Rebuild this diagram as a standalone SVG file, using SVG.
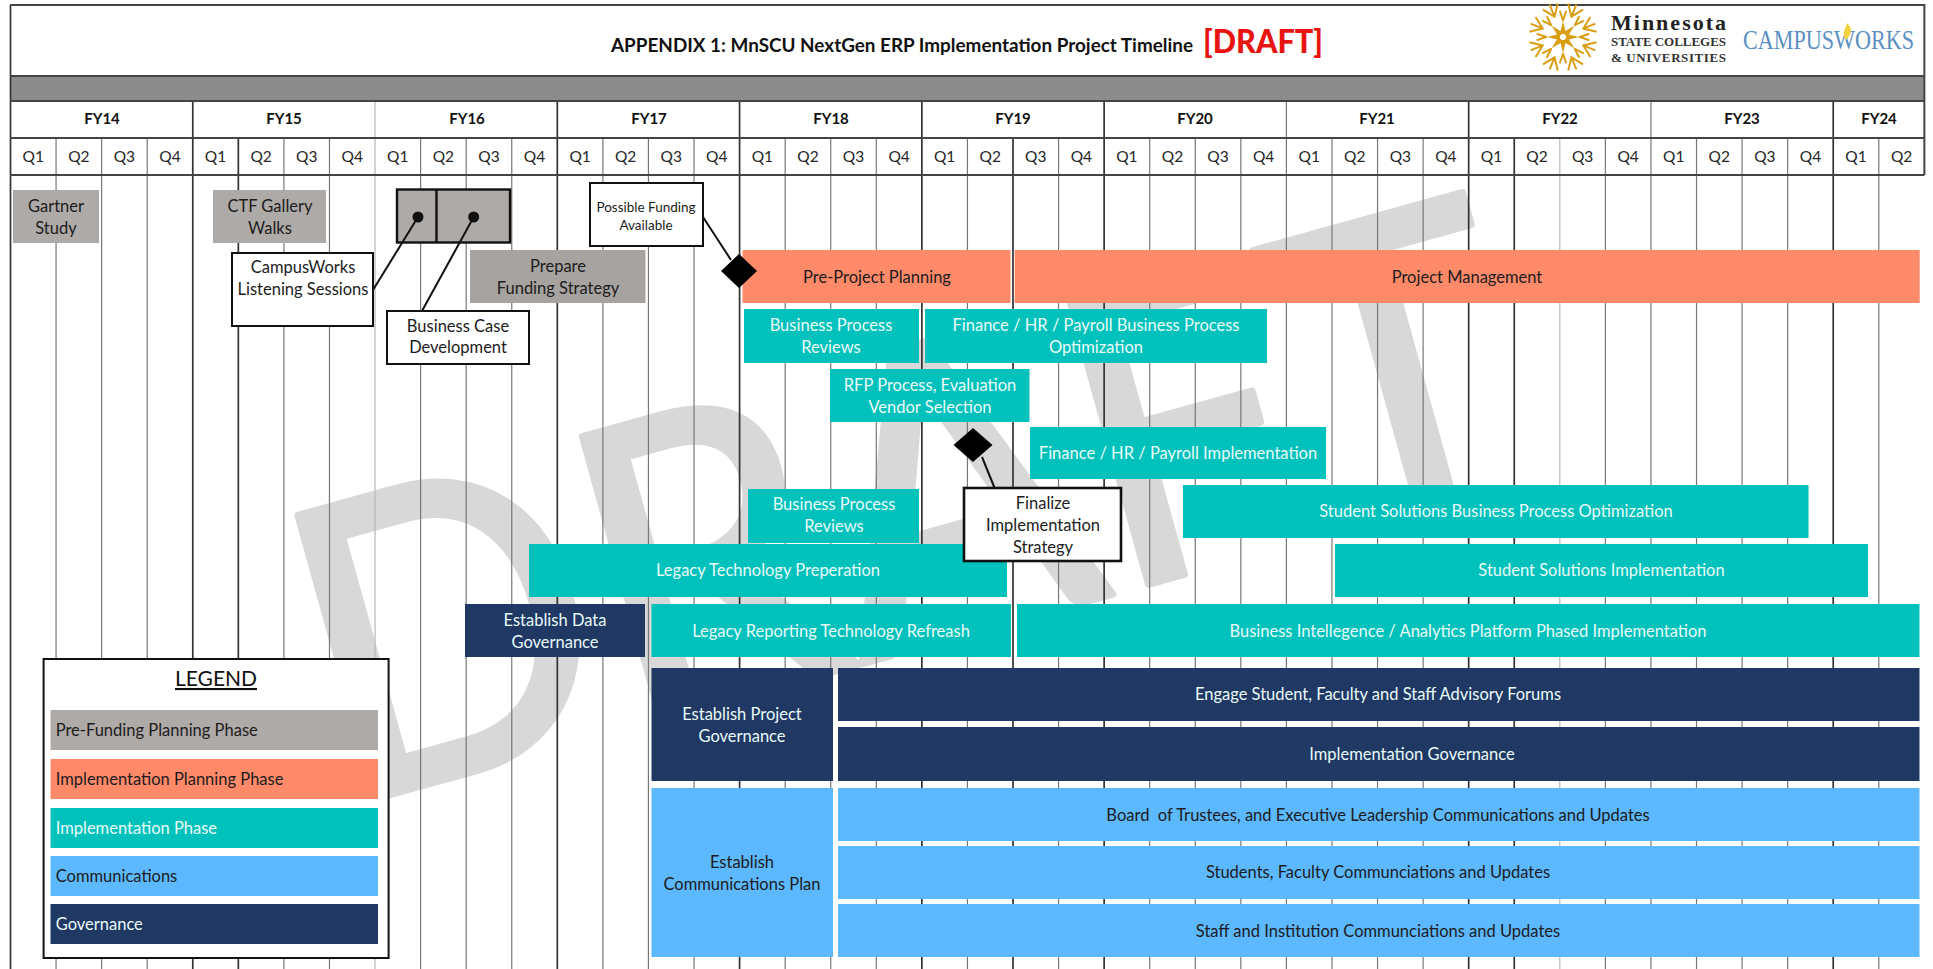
<svg xmlns="http://www.w3.org/2000/svg" width="1933" height="969" viewBox="0 0 1933 969">
<style>
text{font-family:Lato,"Liberation Sans",sans-serif;font-size:16.5px;text-anchor:middle;fill:#1c1c1c}
.w{fill:#e9fbf8}
.q{font-size:15.5px;fill:#262626}
.fy{font-size:15px;font-weight:700;fill:#111}
.l{text-anchor:start}
.gray{fill:#aeaaa8}.gray2{fill:#a6a3a1}.orange{fill:#ff8a6a}.teal{fill:#00c1bb}.navy{fill:#1f3864}.blue{fill:#5cb8ff}
.box{fill:#fff;stroke:#111;stroke-width:2}
.gd{stroke:#333;stroke-width:1.7;fill:none}
.gm{stroke:#777;stroke-width:1.2;fill:none}
.gl{stroke:#b8b8b8;stroke-width:1.2;fill:none}
.hl{stroke:#444;stroke-width:2;fill:none}
.cn{stroke:#111;stroke-width:2;fill:none}
.gold{stroke:#d99e12;stroke-width:2;fill:none}
</style>
<defs>
<path id="spoke" d="M0,-16L3.200,-3L-3.200,-3Z" fill="#d99e12"/>
<path id="chev" d="M-8,-33L0,-22L8,-33M0,-22V-35M-13,-23L-6,-15M13,-23L6,-15" class="gold"/>
</defs>
<rect width="1933" height="969" fill="#fff"/>
<text id="watermark" transform="translate(342,808) rotate(-15.500)" x="0" y="0" textLength="1250" lengthAdjust="spacingAndGlyphs" style="font-size:410px;font-weight:400;text-anchor:start;fill:#d9d8d8;stroke:#d9d8d8;stroke-width:7px;stroke-linejoin:round">DRAFT</text>
<g id="grid" transform="translate(10.500,0) scale(.9993,1) translate(-10.500,0)">
<rect x="10.500" y="76" width="1915" height="25" fill="#8c8c8c"/>
<path class="gd" d="M10.500 5V969M192.900 101V969M238.500 138V969M557.700 101V969M740.100 101V969M922.500 101V969M1013.700 138V969M1104.900 101V969M1469.700 101V969M1515.300 138V969M1834.500 101V969"/>
<path class="gm" d="M56.100 138V969M101.700 138V969M147.300 138V969M284.100 138V969M329.700 138V969M420.900 138V969M466.500 138V969M512.100 138V969M603.300 138V969M648.900 138V969M694.500 138V969M785.700 138V969M831.300 138V969M876.900 138V969M968.100 138V969M1059.300 138V969M1150.500 138V969M1196.100 138V969M1241.700 138V969M1287.300 101V969M1332.900 138V969M1378.500 138V969M1424.100 138V969M1606.500 138V969M1652.100 101V969M1697.700 138V969M1743.300 138V969M1788.900 138V969M1880.100 138V969"/>
<path class="gl" d="M375.300 101V969M1560.900 138V969"/>
<path class="hl" d="M10 5H1925.700V175M10 76H1925.700M10 101H1925.700M10 138H1925.700M10 175H1925.700"/>
</g>
<g id="title">
<text x="902" y="52" style="font-size:18.500px;font-weight:700;fill:#111" textLength="582" lengthAdjust="spacingAndGlyphs">APPENDIX 1: MnSCU NextGen ERP Implementation Project Timeline</text>
<text x="1263" y="53" style="font-size:32px;font-weight:900;fill:#e8140f" textLength="120" lengthAdjust="spacingAndGlyphs">[DRAFT]</text>
</g>
<g id="logo-minnesota">
<g transform="translate(1563,37)">
<use href="#spoke"/><use href="#spoke" transform="rotate(45)"/><use href="#spoke" transform="rotate(90)"/><use href="#spoke" transform="rotate(135)"/><use href="#spoke" transform="rotate(180)"/><use href="#spoke" transform="rotate(225)"/><use href="#spoke" transform="rotate(270)"/><use href="#spoke" transform="rotate(315)"/>
<use href="#chev" transform="rotate(22.500)"/><use href="#chev" transform="rotate(67.500)"/><use href="#chev" transform="rotate(112.500)"/><use href="#chev" transform="rotate(157.500)"/><use href="#chev" transform="rotate(202.500)"/><use href="#chev" transform="rotate(247.500)"/><use href="#chev" transform="rotate(292.500)"/><use href="#chev" transform="rotate(337.500)"/>
</g>
<text x="1611" y="30" style="font-family:'Liberation Serif',serif;font-size:22px;font-weight:700;text-anchor:start;fill:#222" textLength="115" lengthAdjust="spacing">Minnesota</text>
<text x="1611" y="46" style="font-family:'Liberation Serif',serif;font-size:13px;font-weight:700;text-anchor:start;fill:#333" textLength="115" lengthAdjust="spacing">STATE COLLEGES</text>
<text x="1611" y="62" style="font-family:'Liberation Serif',serif;font-size:13px;font-weight:700;text-anchor:start;fill:#333" textLength="115" lengthAdjust="spacing">&amp; UNIVERSITIES</text>
</g>
<g id="logo-campusworks">
<text x="1743" y="49" style="font-family:'Liberation Serif',serif;font-size:27px;text-anchor:start;fill:#5b8fc2" textLength="171" lengthAdjust="spacingAndGlyphs">CAMPUSWORKS</text>
<path d="M1846 40C1841 33 1846 28 1847 23C1852 28 1853 33 1846 40Z" fill="#f2d13c"/>
</g>
<g id="fiscal-years">
<text class="fy" x="102" y="124">FY14</text><text class="fy" x="284" y="124">FY15</text><text class="fy" x="467" y="124">FY16</text><text class="fy" x="649" y="124">FY17</text><text class="fy" x="831" y="124">FY18</text><text class="fy" x="1013" y="124">FY19</text><text class="fy" x="1195" y="124">FY20</text><text class="fy" x="1377" y="124">FY21</text><text class="fy" x="1560" y="124">FY22</text><text class="fy" x="1742" y="124">FY23</text><text class="fy" x="1879" y="124">FY24</text>
</g>
<g id="quarters" transform="translate(10.500,0) scale(.9993,1) translate(-10.500,0)">
<text class="q" x="33.300" y="162">Q1</text><text class="q" x="78.900" y="162">Q2</text><text class="q" x="124.500" y="162">Q3</text><text class="q" x="170.100" y="162">Q4</text>
<text class="q" x="215.700" y="162">Q1</text><text class="q" x="261.300" y="162">Q2</text><text class="q" x="306.900" y="162">Q3</text><text class="q" x="352.500" y="162">Q4</text>
<text class="q" x="398.100" y="162">Q1</text><text class="q" x="443.700" y="162">Q2</text><text class="q" x="489.300" y="162">Q3</text><text class="q" x="534.900" y="162">Q4</text>
<text class="q" x="580.500" y="162">Q1</text><text class="q" x="626.100" y="162">Q2</text><text class="q" x="671.700" y="162">Q3</text><text class="q" x="717.300" y="162">Q4</text>
<text class="q" x="762.900" y="162">Q1</text><text class="q" x="808.500" y="162">Q2</text><text class="q" x="854.100" y="162">Q3</text><text class="q" x="899.700" y="162">Q4</text>
<text class="q" x="945.300" y="162">Q1</text><text class="q" x="990.900" y="162">Q2</text><text class="q" x="1036.500" y="162">Q3</text><text class="q" x="1082.100" y="162">Q4</text>
<text class="q" x="1127.700" y="162">Q1</text><text class="q" x="1173.300" y="162">Q2</text><text class="q" x="1218.900" y="162">Q3</text><text class="q" x="1264.500" y="162">Q4</text>
<text class="q" x="1310.100" y="162">Q1</text><text class="q" x="1355.700" y="162">Q2</text><text class="q" x="1401.300" y="162">Q3</text><text class="q" x="1446.900" y="162">Q4</text>
<text class="q" x="1492.500" y="162">Q1</text><text class="q" x="1538.100" y="162">Q2</text><text class="q" x="1583.700" y="162">Q3</text><text class="q" x="1629.300" y="162">Q4</text>
<text class="q" x="1674.900" y="162">Q1</text><text class="q" x="1720.500" y="162">Q2</text><text class="q" x="1766.100" y="162">Q3</text><text class="q" x="1811.700" y="162">Q4</text>
<text class="q" x="1857.300" y="162">Q1</text><text class="q" x="1902.900" y="162">Q2</text>
</g>
<g id="n-gartner"><rect class="gray" x="13" y="190" width="86" height="53"/><text x="56" y="212">Gartner</text><text x="56" y="234">Study</text></g>
<g id="n-ctf"><rect class="gray" x="213" y="190" width="113" height="53"/><text x="270" y="212">CTF Gallery</text><text x="270" y="234">Walks</text></g>
<g id="n-pair"><rect class="gray" x="397" y="189.500" width="113" height="53" stroke="#111" stroke-width="2.400"/><path d="M436.500 189.500V242.500" stroke="#111" stroke-width="2.400"/></g>
<g id="n-prepare"><rect class="gray2" x="470" y="250" width="175.500" height="53"/><text x="558" y="272">Prepare</text><text x="558" y="294">Funding Strategy</text></g>
<g id="n-preproject"><rect class="orange" x="742.500" y="250" width="268" height="53"/><text x="877" y="283">Pre-Project Planning</text></g>
<g id="n-pm"><rect class="orange" x="1014.700" y="250" width="905" height="53"/><text x="1467" y="283">Project Management</text></g>
<g id="n-bpr1"><rect class="teal" x="744" y="309" width="175" height="54"/><text class="w" x="831" y="331">Business Process</text><text class="w" x="831" y="353">Reviews</text></g>
<g id="n-bpo"><rect class="teal" x="925" y="309" width="342" height="54"/><text class="w" x="1096" y="331">Finance / HR / Payroll Business Process</text><text class="w" x="1096" y="353">Optimization</text></g>
<g id="n-rfp"><rect class="teal" x="830" y="369" width="199.500" height="53"/><text class="w" x="930" y="391">RFP Process, Evaluation</text><text class="w" x="930" y="413">Vendor Selection</text></g>
<g id="n-fhr"><rect class="teal" x="1030" y="427" width="296" height="52"/><text class="w" x="1178" y="459">Finance / HR / Payroll Implementation</text></g>
<g id="n-bpr2"><rect class="teal" x="748" y="489" width="171" height="54"/><text class="w" x="834" y="510">Business Process</text><text class="w" x="834" y="532">Reviews</text></g>
<g id="n-sbpo"><rect class="teal" x="1183" y="485" width="625.500" height="53"/><text class="w" x="1496" y="517">Student Solutions Business Process Optimization</text></g>
<g id="n-legacy"><rect class="teal" x="529" y="544" width="478" height="53"/><text class="w" x="768" y="576">Legacy Technology Preperation</text></g>
<g id="n-simpl"><rect class="teal" x="1335" y="544" width="533" height="53"/><text class="w" x="1601.500" y="576">Student Solutions Implementation</text></g>
<g id="n-datagov"><rect class="navy" x="465" y="604" width="180" height="53"/><text class="w" x="555" y="626">Establish Data</text><text class="w" x="555" y="648">Governance</text></g>
<g id="n-report"><rect class="teal" x="651.500" y="604" width="359.500" height="53"/><text class="w" x="831" y="637">Legacy Reporting Technology Refreash</text></g>
<g id="n-bi"><rect class="teal" x="1017" y="604" width="902.500" height="53"/><text class="w" x="1468" y="637">Business Intellegence / Analytics Platform Phased Implementation</text></g>
<g id="n-projgov"><rect class="navy" x="651.500" y="668" width="181.500" height="113"/><text class="w" x="742" y="720">Establish Project</text><text class="w" x="742" y="742">Governance</text></g>
<g id="n-engage"><rect class="navy" x="838" y="668" width="1081.500" height="53"/><text class="w" x="1378" y="700">Engage Student, Faculty and Staff Advisory Forums</text></g>
<g id="n-implgov"><rect class="navy" x="838" y="727" width="1081.500" height="54"/><text class="w" x="1412" y="760">Implementation Governance</text></g>
<g id="n-commplan"><rect class="blue" x="651.500" y="788" width="181.500" height="169"/><text x="742" y="868">Establish</text><text x="742" y="890">Communications Plan</text></g>
<g id="n-board"><rect class="blue" x="838" y="788" width="1081.500" height="53"/><text x="1378" y="821" style="white-space:pre">Board  of Trustees, and Executive Leadership Communications and Updates</text></g>
<g id="n-students"><rect class="blue" x="838" y="846" width="1081.500" height="53"/><text x="1378" y="878">Students, Faculty Communciations and Updates</text></g>
<g id="n-staff"><rect class="blue" x="838" y="904" width="1081.500" height="53"/><text x="1378" y="937">Staff and Institution Communciations and Updates</text></g>
<g id="connectors">
<circle cx="418" cy="217" r="5.500" fill="#111"/><circle cx="473.700" cy="217" r="5.500" fill="#111"/>
<path class="cn" d="M418 217L373 290M473.700 217L422 311M703 217L731 260M982 457L994.600 488"/>
</g>
<g id="n-listening"><rect class="box" x="232" y="253" width="141" height="73"/><text x="303" y="273">CampusWorks</text><text x="303" y="295">Listening Sessions</text></g>
<g id="n-bizcase"><rect class="box" x="387" y="311" width="142" height="53"/><text x="458" y="332">Business Case</text><text x="458" y="353">Development</text></g>
<g id="n-funding"><rect class="box" x="590" y="183" width="113" height="63"/><text x="646" y="212" style="font-size:13.500px">Possible Funding</text><text x="646" y="230" style="font-size:13.500px">Available</text></g>
<g id="n-finalize"><rect class="box" x="964" y="488" width="157" height="73" style="stroke-width:2.600"/><text x="1043" y="509">Finalize</text><text x="1043" y="531">Implementation</text><text x="1043" y="553">Strategy</text></g>
<g id="m-funding"><path d="M739 254L757 271L739 288L721 271Z" fill="#000"/></g>
<g id="m-finalize"><path d="M973 428L992.500 445L973 462L953.500 445Z" fill="#000"/></g>
<g id="legend">
<rect class="box" x="43.600" y="659" width="345" height="299"/>
<text x="216" y="686" style="font-size:21px;text-decoration:underline;fill:#111">LEGEND</text>
<rect class="gray" x="50.500" y="710" width="327.500" height="40"/><text class="l" x="55.700" y="736">Pre-Funding Planning Phase</text>
<rect class="orange" x="50.500" y="759" width="327.500" height="40"/><text class="l" x="55.700" y="785">Implementation Planning Phase</text>
<rect class="teal" x="50.500" y="808" width="327.500" height="40"/><text class="l w" x="55.700" y="834">Implementation Phase</text>
<rect class="blue" x="50.500" y="856" width="327.500" height="40"/><text class="l" x="55.700" y="882">Communications</text>
<rect class="navy" x="50.500" y="904" width="327.500" height="40"/><text class="l w" x="55.700" y="930">Governance</text>
</g>
</svg>
